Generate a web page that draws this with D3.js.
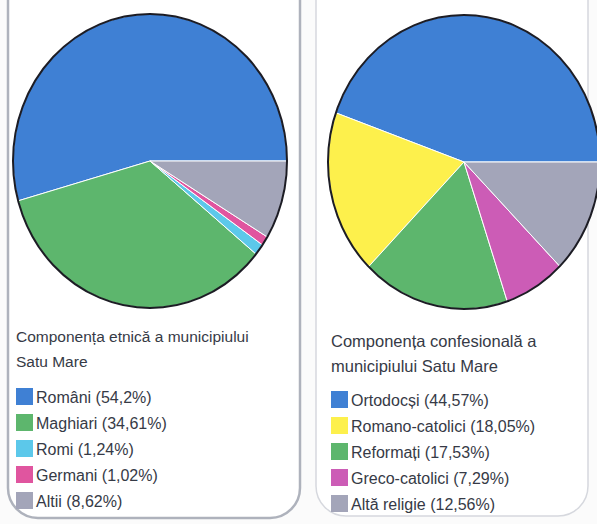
<!DOCTYPE html>
<html>
<head>
<meta charset="utf-8">
<script src="https://cdn.jsdelivr.net/npm/d3@7"></script>
<style>
  body { margin: 0; background: #fbfbfb; }
  svg { display: block; }
  text { font-family: "Liberation Sans", Arial, sans-serif; fill: #363a46; }
</style>
</head>
<body>
<div id="chart"></div>
<script>
var width = 597, height = 524;

// ethnic composition
var ethnicLabels = ["Români", "Maghiari", "Romi", "Germani", "Altii"];
var ethnicValues = [54.2, 34.61, 1.24, 1.02, 8.62];
var ethnicColors = ["#3f80d4", "#5db66d", "#5cc8ea", "#e0559f", "#a3a5b9"];
var ethnicTitle = ["Componența etnică a municipiului", "Satu Mare"];

// religious composition
var religionLabels = ["Ortodocși", "Romano-catolici", "Reformați", "Greco-catolici", "Altă religie"];
var religionValues = [44.57, 18.05, 17.53, 7.29, 12.56];
var religionColors = ["#3f80d4", "#fdf04c", "#5db66d", "#cc5cb6", "#a3a5b9"];
var religionTitle = ["Componența confesională a", "municipiului Satu Mare"];

var svg = d3.select("#chart").append("svg")
    .attr("width", width)
    .attr("height", height);

// the two panels
svg.append("rect")
    .attr("x", 8).attr("y", -30)
    .attr("width", 292).attr("height", 548)
    .attr("rx", 30)
    .style("fill", "#ffffff")
    .style("stroke", "#aeb2bc")
    .style("stroke-width", 2.5);

svg.append("rect")
    .attr("x", 316).attr("y", -30)
    .attr("width", 272).attr("height", 546)
    .attr("rx", 30)
    .style("fill", "#ffffff")
    .style("stroke", "#d6d8de")
    .style("stroke-width", 1.5);

function fmt(v) {
    return String(v).replace(".", ",");
}

function drawPie(cx, cy, rx, ry, values, colors) {
    var pie = d3.pie()
        .sort(null)
        .value(function(d) { return d; })
        .startAngle(Math.PI / 2)
        .endAngle(Math.PI / 2 - 2 * Math.PI);

    var arc = d3.arc().innerRadius(0).outerRadius(ry);

    var g = svg.append("g")
        .attr("transform", "translate(" + cx + "," + cy + ") scale(" + (rx / ry) + ",1)");

    g.selectAll("path")
        .data(pie(values))
        .enter()
        .append("path")
        .attr("d", arc)
        .style("fill", function(d, i) { return colors[i]; })
        .style("stroke", "#ffffff")
        .style("stroke-width", 1)
        .attr("vector-effect", "non-scaling-stroke");

    g.append("circle")
        .attr("r", ry)
        .style("fill", "none")
        .style("stroke", "#1c1c24")
        .style("stroke-width", 2)
        .attr("vector-effect", "non-scaling-stroke");
}

function drawLegend(x, titleY, itemY, titleSize, title, labels, values, colors) {
    var t = svg.append("text")
        .attr("x", x)
        .attr("y", titleY)
        .style("font-size", titleSize + "px");
    title.forEach(function(line, i) {
        t.append("tspan")
            .attr("x", x)
            .attr("dy", i == 0 ? 0 : 25)
            .text(line);
    });

    var items = svg.append("g").selectAll("g")
        .data(labels)
        .enter()
        .append("g")
        .attr("transform", function(d, i) { return "translate(" + x + "," + (itemY + i * 26) + ")"; });

    items.append("rect")
        .attr("x", 0).attr("y", -9)
        .attr("width", 17).attr("height", 17)
        .style("fill", function(d, i) { return colors[i]; });

    items.append("text")
        .attr("x", 20)
        .attr("y", 5.5)
        .style("font-size", "16px")
        .text(function(d, i) { return d + " (" + fmt(values[i]) + "%)"; });
}

drawPie(150, 161, 137, 147, ethnicValues, ethnicColors);
drawPie(464, 162, 136, 147, religionValues, religionColors);

drawLegend(16, 342, 397, 15.5, ethnicTitle, ethnicLabels, ethnicValues, ethnicColors);
drawLegend(331, 347, 400, 16.5, religionTitle, religionLabels, religionValues, religionColors);
</script>
</body>
</html>
